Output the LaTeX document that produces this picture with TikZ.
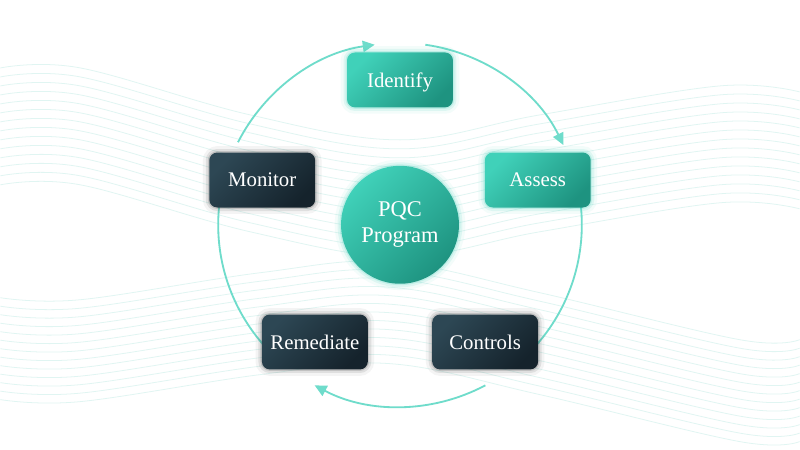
\documentclass[tikz,border=0pt]{standalone}
\usepackage{fontspec}
\setmainfont{Liberation Serif}
\usetikzlibrary{arrows.meta,calc}
\definecolor{tealL}{HTML}{40D1B9}
\definecolor{tealD}{HTML}{1E9380}
\definecolor{navyL}{HTML}{2D4754}
\definecolor{navyD}{HTML}{15232C}
\definecolor{ringc}{HTML}{6FDCCB}
\definecolor{wavec}{HTML}{E0F5F2}
\tikzset{
  glow/.style={preaction={draw=#1,line width=9pt,opacity=.06},
               preaction={draw=#1,line width=5pt,opacity=.12},
               preaction={draw=#1,line width=2pt,opacity=.2}},
  stage/.style={rounded corners=0.2cm,minimum width=2.65cm,minimum height=1.375cm,
                font=\fontsize{14.8}{18}\selectfont,text=white},
  tealbox/.style={stage,top color=tealL,bottom color=tealD,shading angle=45,glow=tealL},
  navybox/.style={stage,top color=navyL,bottom color=navyD,shading angle=45,glow=black!70},
  hubdisc/.style={circle,minimum size=2.95cm,align=center,text=white,
                  font=\fontsize{16}{18.5}\selectfont,
                  top color=tealL,bottom color=tealD,shading angle=45,glow=tealL},
  ring/.style={ringc,line width=1.3pt},
  wave/.style={wavec,line width=0.55pt}
}
\begin{document}
\begin{tikzpicture}[x=0.025cm,y=0.025cm]
\fill[white] (0,0) rectangle (800,450);
% background waves
\foreach \k in {0,...,13}
  \draw[wave] plot[smooth,tension=0.6] coordinates {(0,{382-9*\k}) (80,{382-9*\k}) (250,{335-9*\k})
    (400,{310-9*\k}) (540,{335-9*\k}) (720,{364-9*\k}) (800,{358-9*\k})};
\foreach \k in {0,...,12}
  \draw[wave] plot[smooth,tension=0.6] coordinates {(0,{152-8.5*\k}) (80,{150-8.5*\k}) (260,{177-8.5*\k})
    (390,{188-8.5*\k}) (540,{157-8.5*\k}) (740,{110-8.5*\k}) (800,{110-8.5*\k})};
\coordinate (c) at (400,225);
% cycle ring
\draw[ring,-{Triangle[length=8.5pt,width=8pt]}] ($(c)+(153:182)$) arc[start angle=153,end angle=98,radius=182];
\draw[ring,-{Triangle[length=8.5pt,width=8pt]}] ($(c)+(82:182)$) arc[start angle=82,end angle=26,radius=182];
\draw[ring] ($(c)+(8:182)$) arc[start angle=8,end angle=-43,radius=182];
\draw[ring,-{Triangle[length=8.5pt,width=8pt]}] ($(c)+(-62:182)$) arc[start angle=-62,end angle=-118,radius=182];
\draw[ring] ($(c)+(222:182)$) arc[start angle=222,end angle=172,radius=182];
% stages
\node[hubdisc] (hub) at (c) {PQC\\Program};
\foreach \name/\ang/\sty/\txt in {identify/90/tealbox/Identify,assess/18/tealbox/Assess,
    controls/-54/navybox/Controls,remediate/-126/navybox/Remediate,monitor/162/navybox/Monitor}
  \node[\sty,text depth=0pt] (\name) at ($(c)+(\ang:145)$) {\txt};
\end{tikzpicture}
\end{document}
